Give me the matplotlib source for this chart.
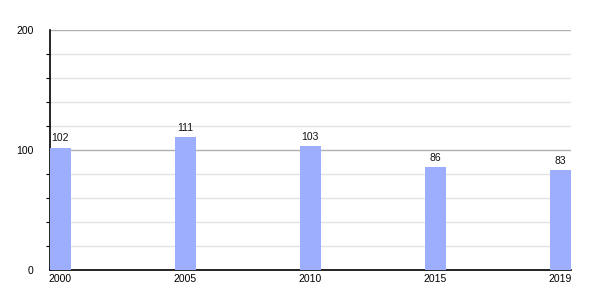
import matplotlib
matplotlib.use("Agg")
import matplotlib.pyplot as plt
from matplotlib.ticker import MultipleLocator

years = ["2000", "2005", "2010", "2015", "2019"]
values = [102, 111, 103, 86, 83]

plt.rcParams['font.family'] = ['Liberation Sans', 'DejaVu Sans']

fig = plt.figure(figsize=(6, 3), dpi=100)
ax = fig.add_axes([50/600, 30/300, 520.7/600, 240/300])

w = 0.166
x = list(range(len(years)))
bars = ax.bar(x, values, width=w, color='#9daeff', zorder=3)
for xi, v in zip(x, values):
    ax.annotate(str(v), (xi, v), xytext=(0, 3), textcoords='offset points',
                ha='center', va='bottom', fontsize=7.5, color='#111111', zorder=4)

ax.set_xlim(-w/2, len(years) - 1 + w/2)
ax.set_ylim(0, 200)
ax.set_xticks(x)
ax.set_xticklabels(years)
ax.yaxis.set_major_locator(MultipleLocator(100))
ax.yaxis.set_minor_locator(MultipleLocator(20))
ax.grid(axis='y', which='major', color='#b0b0b0', linewidth=1, zorder=1)
ax.grid(axis='y', which='minor', color='#e2e2e2', linewidth=1, zorder=0)
ax.set_axisbelow(True)
for s in ['top', 'right']:
    ax.spines[s].set_visible(False)
for s in ['left', 'bottom']:
    ax.spines[s].set_color('black')
    ax.spines[s].set_linewidth(1.2)
ax.tick_params(axis='y', which='major', length=0, pad=12, labelsize=7.5)
ax.tick_params(axis='y', which='minor', length=3, width=0.8, color='black')
ax.tick_params(axis='x', which='major', length=0, pad=3, labelsize=7.5)

fig.savefig("out.png", dpi=100)
